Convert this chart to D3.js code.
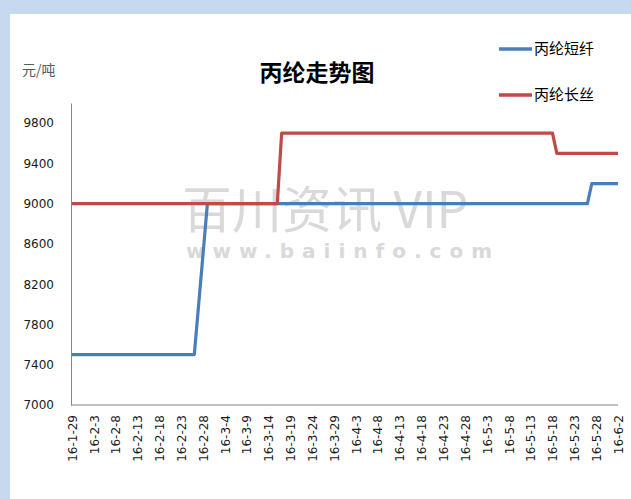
<!DOCTYPE html>
<html>
<head>
<meta charset="utf-8">
<script src="https://cdn.jsdelivr.net/npm/d3@7"></script>
<style>
  body { margin: 0; padding: 0; background: #c6d9f0; }
  svg { display: block; }
  .tick-label { font-family: "DejaVu Sans", sans-serif; font-size: 12px; fill: #1a1a1a; }
  .cjk { font-family: "Noto Sans CJK SC", sans-serif; }
</style>
</head>
<body>
<div id="chart"></div>
<script>
// data (only the points where the line changes)
const seriesNames = ["丙纶短纤", "丙纶长丝"];
const staple_dates = ["2016-01-29", "2016-02-26", "2016-02-29", "2016-05-26", "2016-05-27", "2016-06-02"];
const staple_values = [7500, 7500, 9000, 9000, 9200, 9200];
const filament_dates = ["2016-01-29", "2016-03-16", "2016-03-17", "2016-05-18", "2016-05-19", "2016-06-02"];
const filament_values = [9000, 9000, 9700, 9700, 9500, 9500];
const x_tick_labels = ["16-1-29","16-2-3","16-2-8","16-2-13","16-2-18","16-2-23","16-2-28","16-3-4","16-3-9",
    "16-3-14","16-3-19","16-3-24","16-3-29","16-4-3","16-4-8","16-4-13","16-4-18","16-4-23","16-4-28",
    "16-5-3","16-5-8","16-5-13","16-5-18","16-5-23","16-5-28","16-6-2"];
const y_ticks = [7000, 7400, 7800, 8200, 8600, 9000, 9400, 9800];
const colors = ["#4a7ebb", "#be4b48"];

const W = 631, H = 499;
const margin = { top: 103, bottom: 94, left: 71, right: 13 };

const parseDate = d3.timeParse("%Y-%m-%d");
const parseTick = d3.timeParse("%y-%m-%d");

const svg = d3.select("#chart")
    .append("svg")
    .attr("width", W)
    .attr("height", H);

// white chart panel on the blue page
svg.append("rect")
    .attr("x", 10).attr("y", 14)
    .attr("width", W - 10).attr("height", H - 14)
    .attr("fill", "#ffffff");

// heading cut off at the top of the page
svg.append("text")
    .attr("class", "cjk")
    .attr("x", 12).attr("y", -3)
    .style("font-size", "22px")
    .attr("fill", "#000")
    .text("丙纶市场价格走势图表");

const xScale = d3.scaleTime()
    .domain([parseDate("2016-01-29"), parseDate("2016-06-02")])
    .range([margin.left + 1, W - margin.right]);

const yScale = d3.scaleLinear()
    .domain([7000, 10000])
    .range([H - margin.bottom, margin.top]);

// watermark
svg.append("text")
    .attr("class", "cjk")
    .attr("x", 182).attr("y", 228)
    .style("font-size", "50px")
    .attr("fill", "#d9d9d9")
    .text("百川资讯 VIP");
svg.append("text")
    .attr("x", 186).attr("y", 258)
    .style("font-family", "DejaVu Sans, sans-serif")
    .style("font-size", "20px")
    .style("font-weight", "bold")
    .style("letter-spacing", "8px")
    .attr("fill", "#d9d9d9")
    .text("www.baiinfo.com");

// axes
const canvas = svg.append("g");

const yAxis = canvas.append("g")
    .attr("transform", "translate(" + margin.left + ",0)")
    .call(d3.axisLeft(yScale).tickValues(y_ticks).tickSize(0).tickPadding(17).tickFormat(d3.format("d")));
yAxis.select(".domain").attr("stroke", "#868686");
yAxis.selectAll("text").attr("class", "tick-label");

const xAxis = canvas.append("g")
    .attr("transform", "translate(0," + (H - margin.bottom) + ")")
    .call(d3.axisBottom(xScale)
        .tickValues(x_tick_labels.map(function (t) { return parseTick(t); }))
        .tickSize(0)
        .tickFormat(function (d, i) { return x_tick_labels[i]; }));
xAxis.select(".domain").attr("stroke", "#868686").attr("d", "M" + margin.left + ",0H" + (W - margin.right));
xAxis.selectAll("text")
    .attr("class", "tick-label")
    .attr("transform", "rotate(-90)")
    .attr("x", -10)
    .attr("y", 0)
    .attr("dy", "0.35em")
    .style("text-anchor", "end");

// lines
const line = d3.line()
    .x(function (d) { return xScale(d.date); })
    .y(function (d) { return yScale(d.value); });

const seriesData = [
    staple_dates.map(function (d, i) { return { date: parseDate(d), value: staple_values[i] }; }),
    filament_dates.map(function (d, i) { return { date: parseDate(d), value: filament_values[i] }; })
];

canvas.selectAll(".series")
    .data(seriesData)
    .enter()
    .append("path")
    .attr("class", "series")
    .attr("d", line)
    .attr("fill", "none")
    .attr("stroke", function (d, i) { return colors[i]; })
    .attr("stroke-width", 3.2)
    .attr("stroke-linejoin", "round");

// title and unit
svg.append("text")
    .attr("class", "cjk")
    .attr("x", 317).attr("y", 81)
    .style("font-size", "23px")
    .style("font-weight", "bold")
    .style("text-anchor", "middle")
    .attr("fill", "#000")
    .text("丙纶走势图");

svg.append("text")
    .attr("class", "cjk")
    .attr("x", 22).attr("y", 75)
    .style("font-size", "14px")
    .attr("fill", "#595959")
    .text("元/吨");

// legend
const legend = svg.append("g")
    .selectAll("g")
    .data(seriesNames)
    .enter()
    .append("g")
    .attr("transform", function (d, i) { return "translate(499," + (49 + 46 * i) + ")"; });
legend.append("line")
    .attr("x1", 0).attr("x2", 33)
    .attr("stroke", function (d, i) { return colors[i]; })
    .attr("stroke-width", 3.5);
legend.append("text")
    .attr("class", "cjk")
    .attr("x", 35).attr("y", 0)
    .attr("dy", "0.35em")
    .style("font-size", "15px")
    .attr("fill", "#000")
    .text(function (d) { return d; });
</script>
</body>
</html>
